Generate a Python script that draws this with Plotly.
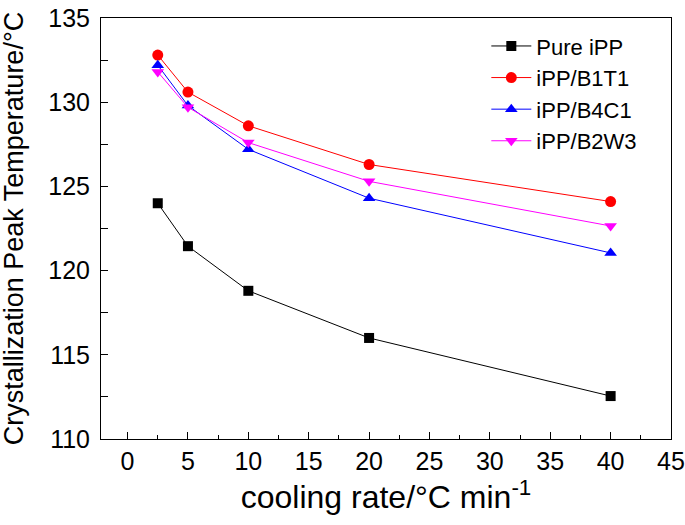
import plotly.graph_objects as go

cooling_rate = [2.5, 5, 10, 20, 40]
pure_ipp = [124.0, 121.45, 118.8, 116.0, 112.55]
ipp_b1t1 = [132.8, 130.6, 128.6, 126.3, 124.1]
ipp_b4c1 = [132.2, 129.8, 127.2, 124.3, 121.05]
ipp_b2w3 = [131.8, 129.7, 127.6, 125.3, 122.65]

x_title = "cooling rate/°C min<sup>-1</sup>"
y_title = "Crystallization Peak Temperature/°C"

series = [
    ("Pure iPP", pure_ipp, "black", "square", 10),
    ("iPP/B1T1", ipp_b1t1, "red", "circle", 11),
    ("iPP/B4C1", ipp_b4c1, "blue", "triangle-up", 11),
    ("iPP/B2W3", ipp_b2w3, "magenta", "triangle-down", 11),
]

fig = go.Figure()
for name, vals, color, sym, sz in series:
    fig.add_trace(go.Scatter(
        x=cooling_rate, y=vals, name=name, mode="lines+markers",
        line=dict(color=color, width=1),
        marker=dict(symbol=sym, size=sz, color=color),
    ))

font = "Liberation Sans, Arial, sans-serif"
fig.update_layout(
    width=685, height=525,
    margin=dict(l=101, r=14, t=18, b=86, autoexpand=False),
    paper_bgcolor="white", plot_bgcolor="white",
    font=dict(family=font, size=25, color="black"),
    showlegend=True,
    legend=dict(x=0.676, y=0.983, xanchor="left", yanchor="top",
                font=dict(size=22), bgcolor="rgba(0,0,0,0)",
                tracegroupgap=0, itemwidth=40),
    xaxis=dict(
        range=[-2.2, 45], dtick=5, tick0=0, automargin=False,
        showline=True, linecolor="black", linewidth=1, mirror=True,
        ticks="inside", ticklen=7, tickcolor="black",
        minor=dict(ticks="inside", dtick=2.5, ticklen=4, tickcolor="black"),
        showgrid=False, zeroline=False,
        tickfont=dict(size=25), ticklabeloverflow="allow",
        title=dict(text=x_title, font=dict(size=32), standoff=5),
    ),
    yaxis=dict(
        range=[110, 135], dtick=5, automargin=False,
        showline=True, linecolor="black", linewidth=1, mirror=True,
        ticks="inside", ticklen=7, tickcolor="black",
        minor=dict(ticks="inside", dtick=2.5, ticklen=7, tickcolor="black"),
        showgrid=False, zeroline=False,
        tickfont=dict(size=25), ticklabelstandoff=5, ticklabeloverflow="allow",
    ),
    annotations=[dict(
        text=y_title, textangle=-90, showarrow=False,
        xref="paper", yref="paper", x=-0.153, y=0.5,
        xanchor="center", yanchor="middle",
        font=dict(size=27, family=font, color="black"),
    )],
)

fig.write_html("out.html", config={"displayModeBar": False},
               post_script="document.body.style.margin='0';")
